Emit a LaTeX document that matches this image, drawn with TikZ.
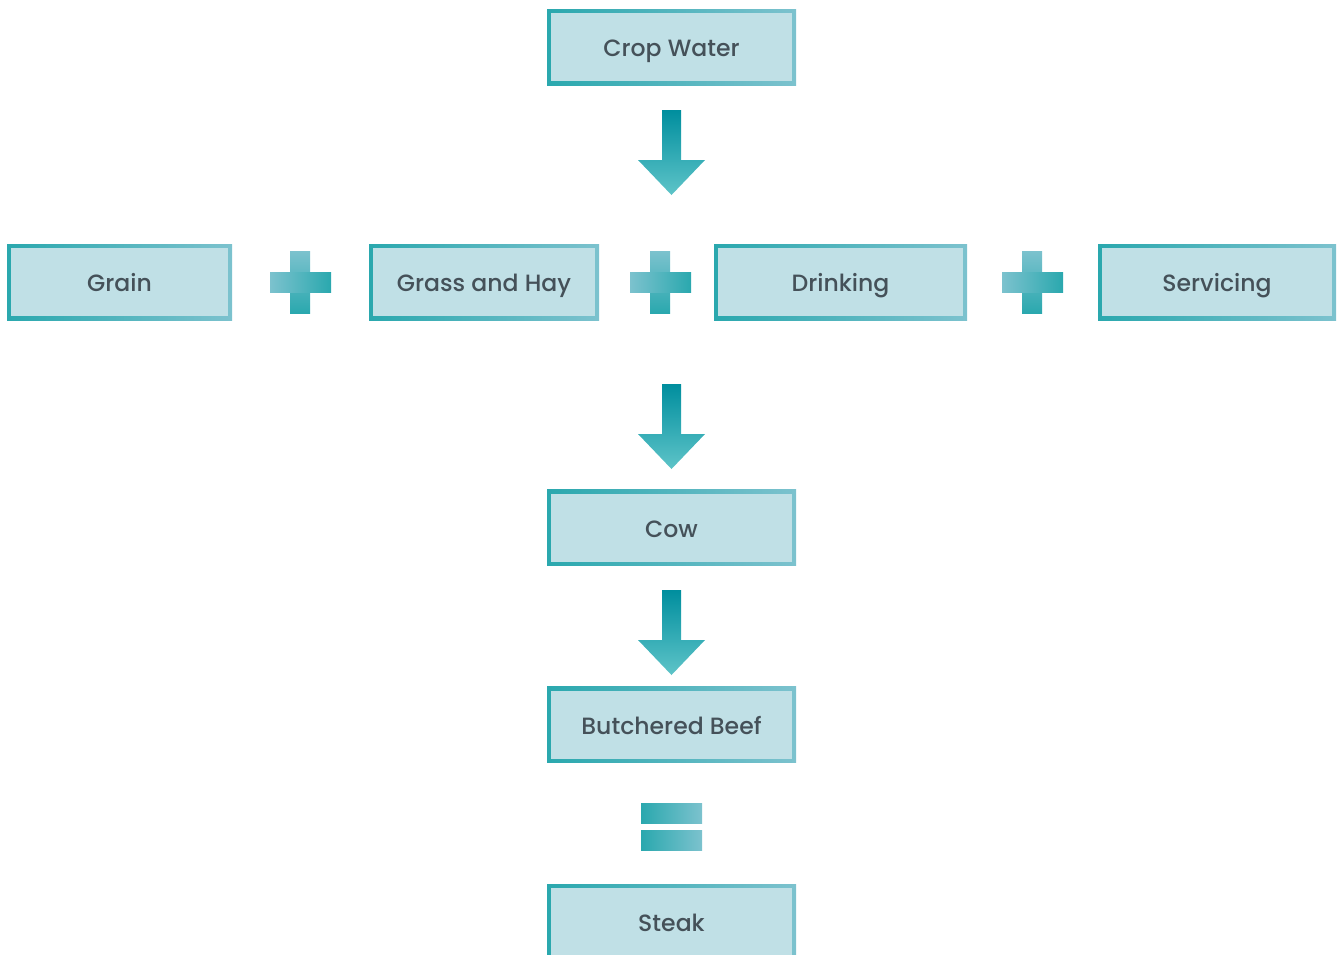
\documentclass[tikz,border=0pt]{standalone}
\usepackage{fontspec}
\setmainfont{Poppins}[UprightFont=* Medium]
\usepackage{xcolor}
\usepackage{tikz}
\usetikzlibrary{positioning,calc}
\definecolor{edgedark}{HTML}{2AA8AE}
\definecolor{edgelight}{HTML}{7CC2CE}
\definecolor{cellfill}{HTML}{C0E0E6}
\definecolor{ink}{HTML}{455159}
\definecolor{artop}{HTML}{008E9E}
\definecolor{armid}{HTML}{00A9B5}
\definecolor{arbot}{HTML}{5EC4C8}

\begin{document}
\begin{tikzpicture}[font=\fontsize{13.4}{15}\selectfont,
  cell/.style={shade,left color=edgedark,right color=edgelight,minimum width=4.98cm,minimum height=1.52cm,
    inner sep=0pt,outer sep=0pt,text=ink,text height=1.2em,text depth=0.1em,
    path picture={\fill[cellfill] ([shift={(0.08,0.08)}]path picture bounding box.south west) rectangle ([shift={(-0.08,-0.08)}]path picture bounding box.north east);}},
  blockar/.style={top color=artop,middle color=armid,bottom color=arbot},
  plusbar/.style={left color=edgelight,right color=edgedark},
  plusstem/.style={top color=edgelight,bottom color=edgedark},
  eqbar/.style={left color=edgedark,right color=edgelight}]
\clip (0,0) rectangle (26.76,-19.08);
\node[cell] (crop) at (13.43,-0.94) {Crop Water};
\node[cell,minimum width=4.5cm] (grain) at (2.39,-5.64) {Grain};
\node[cell,minimum width=4.6cm] (grass) at (9.68,-5.64) {Grass and Hay};
\node[cell,minimum width=5.06cm] (drink) at (16.81,-5.64) {Drinking};
\node[cell,minimum width=4.76cm] (serv) at (24.34,-5.64) {Servicing};
\node[cell] (cow) at (13.43,-10.55) {Cow};
\node[cell] (beef) at (13.43,-14.49) {Butchered Beef};
\node[cell] (steak) at (13.43,-18.44) {Steak};
% block arrows, tip 1.7cm below the top
\foreach \ytop in {-2.2,-7.68,-11.8}
  \shade[blockar] (13.24,\ytop) -- (13.62,\ytop) -- (13.62,\ytop-1.0) -- (14.1,\ytop-1.0)
    -- (13.43,\ytop-1.7) -- (12.76,\ytop-1.0) -- (13.24,\ytop-1.0) -- cycle;
% plus signs between the sources
\foreach \xp in {6.0,13.2,20.64} {
  \shade[plusstem] (\xp-0.2,-5.02) rectangle (\xp+0.2,-6.26);
  \shade[plusbar] (\xp-0.6,-5.44) rectangle (\xp+0.62,-5.84);
}
% equals sign
\shade[eqbar] (12.82,-16.06) rectangle (14.04,-16.46);
\shade[eqbar] (12.82,-16.6) rectangle (14.04,-17.0);
\end{tikzpicture}
\end{document}
